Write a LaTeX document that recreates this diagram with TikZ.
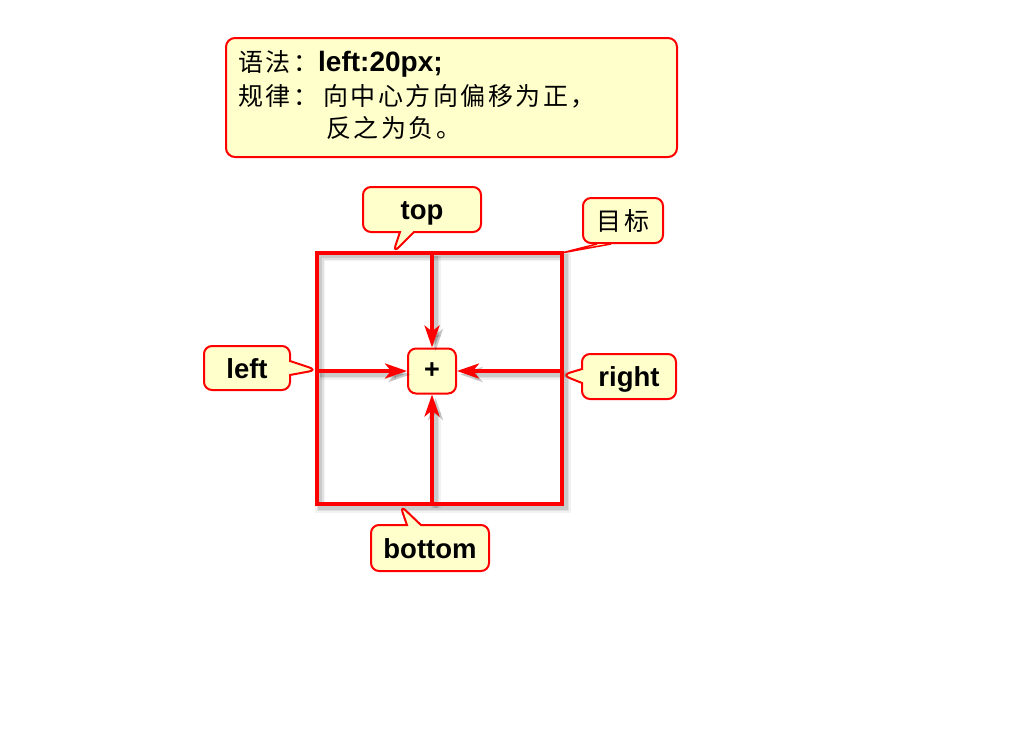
\documentclass[tikz,border=0pt]{standalone}
\usepackage{fontspec}
\setmainfont{Liberation Sans}
\newfontfamily\cjk[LetterSpace=10]{Noto Sans CJK SC}
\usetikzlibrary{arrows.meta,positioning,shadows,shapes.callouts}
\definecolor{notefill}{HTML}{FFFFCC}
\definecolor{markred}{HTML}{FF0000}

\tikzset{
  tipbox/.style={rectangle callout, draw=markred, line width=2pt, fill=notefill,
    rounded corners=8pt, callout pointer width=14pt, inner sep=0pt,
    text height=20pt, text depth=0pt,
    font=\bfseries\fontsize{27.5}{32}\selectfont},
  push/.style={draw=markred, line width=3.5pt, -{Stealth[length=22pt,width=15pt,inset=6pt]}},
  frame/.style={draw=markred, line width=4pt},
  noteline/.style={anchor=base west, inner sep=0pt, font=\fontsize{25}{30}\selectfont},
}

\begin{document}
\begin{tikzpicture}[x=1pt,y=-1pt]
    \useasboundingbox (0,0) rectangle (1024,728);

    % Note
    \node[draw=markred, line width=2pt, fill=notefill, rounded corners=9pt,
          minimum width=451pt, minimum height=119pt] (note) at (451.5,97.5) {};
    \node[noteline] (syntax) at (238,71) {\cjk 语法：\normalfont\bfseries\fontsize{28}{30}\selectfont left:20px;};
    \node[noteline] (rule) at (238,105) {\cjk 规律：\hspace{5pt}向中心方向偏移为正，};
    \node[noteline] (rulemore) at (326,137) {\cjk 反之为负。};

    % Target box and centre
    \node[minimum width=245pt, minimum height=251pt] (target) at (439.5,378.5) {};
    \node[draw=markred, line width=2pt, fill=notefill, rounded corners=8pt, minimum width=48pt,
          minimum height=45pt, font=\bfseries\fontsize{27}{30}\selectfont] (centre) at (432,371) {+};

    % Soft shadow
    \begin{scope}[transform canvas={shift={(3.5pt,-3.5pt)}}]
      \foreach \w/\o in {10/0.05, 7/0.07, 4/0.1} {
        \draw[line width=\w pt, black, opacity=\o] (target.north west) rectangle (target.south east);
        \draw[push, draw=black, opacity=\o, line width=\w pt] (centre |- target.north) -- (centre.north);
        \draw[push, draw=black, opacity=\o, line width=\w pt] (centre |- target.south) -- (centre.south);
        \draw[push, draw=black, opacity=\o, line width=\w pt] (target.west |- centre) -- (centre.west);
        \draw[push, draw=black, opacity=\o, line width=\w pt] (target.east |- centre) -- (centre.east);
      }
    \end{scope}

    \draw[frame] (target.north west) rectangle (target.south east);

    % Arrows
    \draw[push] (centre |- target.north) -- (centre.north);
    \draw[push] (centre |- target.south) -- (centre.south);
    \draw[push] (target.west |- centre) -- (centre.west);
    \draw[push] (target.east |- centre) -- (centre.east);

    % Callouts
    \node[tipbox, minimum width=118pt, minimum height=45pt, callout absolute pointer={(393,253)}]
        (toptip) at (422,209.5) {top};
    \node[draw=markred, line width=2pt, fill=notefill, rounded corners=8pt, minimum width=80pt,
          minimum height=45pt, font=\cjk\fontsize{25}{28}\selectfont] (goaltip) at (623,220.5) {目标};
    \draw[draw=markred, line width=1.5pt, fill=notefill, line join=round]
        ([xshift=-26pt]goaltip.south) -- (target.north east) -- ([xshift=-12pt]goaltip.south);
    \node[tipbox, minimum width=86pt, minimum height=44pt, callout absolute pointer={(317,370)}]
        (lefttip) at (247,368) {left};
    \node[tipbox, minimum width=94pt, minimum height=45pt, callout absolute pointer={(562,375)}]
        (righttip) at (629,376.5) {right};
    \node[tipbox, minimum width=118pt, minimum height=46pt, callout absolute pointer={(400,505)}]
        (bottomtip) at (430,548) {bottom};
\end{tikzpicture}
\end{document}
